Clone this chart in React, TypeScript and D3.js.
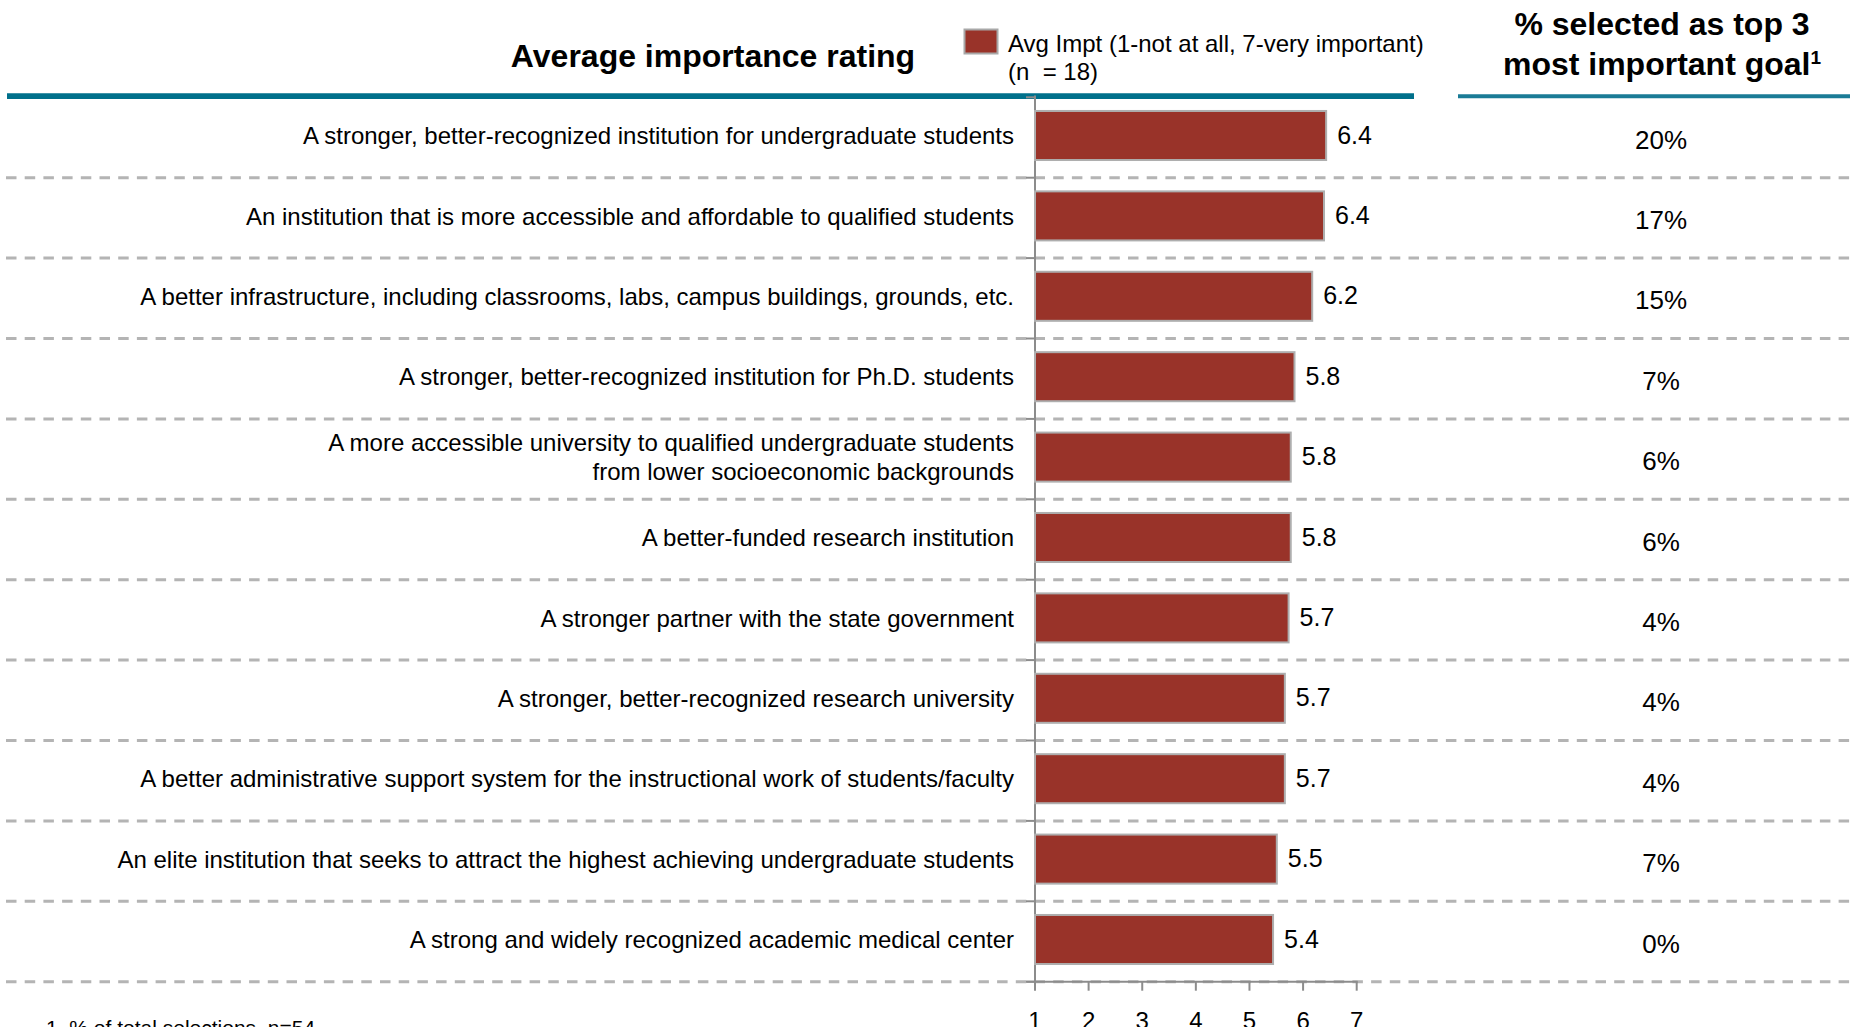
import React from 'react';
import * as d3 from 'd3';

// goal labels (multi-line where the original wraps)
const goals = [
  ['A stronger, better-recognized institution for undergraduate students'],
  ['An institution that is more accessible and affordable to qualified students'],
  ['A better infrastructure, including classrooms, labs, campus buildings, grounds, etc.'],
  ['A stronger, better-recognized institution for Ph.D. students'],
  ['A more accessible university to qualified undergraduate students', 'from lower socioeconomic backgrounds'],
  ['A better-funded research institution'],
  ['A stronger partner with the state government'],
  ['A stronger, better-recognized research university'],
  ['A better administrative support system for the instructional work of students/faculty'],
  ['An elite institution that seeks to attract the highest achieving undergraduate students'],
  ['A strong and widely recognized academic medical center'],
];
const avgImpt = [6.43, 6.39, 6.17, 5.84, 5.77, 5.77, 5.73, 5.66, 5.66, 5.51, 5.44];
const topThreePct = [20, 17, 15, 7, 6, 6, 4, 4, 4, 7, 0];
const ratingTicks = [1, 2, 3, 4, 5, 6, 7];

const W = 1850;
const H = 1027;
const FONT = '"Liberation Sans", Arial, Helvetica, sans-serif';
const BAR = '#993329';
const TEAL = '#00708b';
const GRID = '#b4b4b4';
const AXIS = '#8c8c8c';

const App = () => {
  const ids = goals.map((_, i) => i);
  const y = d3.scaleBand().domain(ids).range([97.3, 981.7]).paddingInner(0.39).paddingOuter(0.195);
  const x = d3.scaleLinear().domain([1, 7]).range([1035, 1356.7]);
  const step = y.step();
  const top = 97.3;
  const bounds = d3.range(goals.length + 1).map(k => top + k * step);
  const rowCenter = i => top + (i + 0.5) * step;
  const x0 = x(1);
  const yBottom = bounds[bounds.length - 1];

  return (
    <svg width={W} height={H} viewBox={`0 0 ${W} ${H}`}
      style={{ position: 'absolute', left: 0, top: 0, display: 'block', background: '#fff' }}
      fontFamily={FONT}>
      {/* headers */}
      <text x={713} y={67} textAnchor="middle" fontSize={32} fontWeight="bold">Average importance rating</text>
      <rect x={964.5} y={29.5} width={33} height={24} fill={BAR} stroke="#a8a8a8" strokeWidth={2} />
      <text x={1008} y={51.5} fontSize={24}>Avg Impt (1-not at all, 7-very important)</text>
      <text x={1008} y={80} fontSize={24} style={{ whiteSpace: 'pre' }}>(n  = 18)</text>
      <text x={1662} y={35} textAnchor="middle" fontSize={32} fontWeight="bold">% selected as top 3</text>
      <text x={1662} y={75} textAnchor="middle" fontSize={32} fontWeight="bold">
        most important goal<tspan fontSize={19} dy={-11}>1</tspan>
      </text>
      <line x1={7} x2={1414} y1={96.2} y2={96.2} stroke={TEAL} strokeWidth={5.7} />
      <line x1={1458} x2={W} y1={96.3} y2={96.3} stroke="#1a7b96" strokeWidth={4} />

      {/* dashed row separators */}
      {bounds.slice(1).map((b, k) => (
        <line key={k} x1={6} x2={W} y1={b} y2={b} stroke={GRID} strokeWidth={3} strokeDasharray="10.5,8.2" />
      ))}

      {/* category axis */}
      <line x1={x0} x2={x0} y1={95.5} y2={yBottom} stroke={AXIS} strokeWidth={2} />
      {bounds.map((b, k) => (
        <line key={k} x1={x0 - 9} x2={x0} y1={b} y2={b} stroke={AXIS} strokeWidth={2} />
      ))}

      {/* labels, bars, values, percents */}
      {goals.map((lines, i) => {
        const c = rowCenter(i);
        const lh = 29.3;
        return (
          <g key={i}>
            <text textAnchor="end" fontSize={24} fill="#000">
              {lines.map((l, j) => (
                <tspan key={j} x={1014} y={c + 6.6 + (j - (lines.length - 1) / 2) * lh}>{l}</tspan>
              ))}
            </text>
            <rect x={x0} y={y(i) - 2} width={x(avgImpt[i]) - x0} height={y.bandwidth()}
              fill={BAR} stroke="#aeaeae" strokeWidth={2} />
            <text x={x(avgImpt[i]) + 11} y={c + 6} fontSize={25}>{avgImpt[i].toFixed(1)}</text>
            <text x={1661} y={c + 11} textAnchor="middle" fontSize={26}>{topThreePct[i]}%</text>
          </g>
        );
      })}

      {/* rating axis */}
      <line x1={x0 - 8.5} x2={x(7) + 1} y1={yBottom} y2={yBottom} stroke={AXIS} strokeWidth={2} />
      {ratingTicks.map(t => (
        <g key={t}>
          <line x1={x(t)} x2={x(t)} y1={yBottom} y2={yBottom + 9} stroke={AXIS} strokeWidth={2} />
          <text x={x(t)} y={1028.5} textAnchor="middle" fontSize={24}>{t}</text>
        </g>
      ))}

      <text x={46} y={1035} fontSize={21}>1. % of total selections, n=54</text>
    </svg>
  );
};

export default App;
